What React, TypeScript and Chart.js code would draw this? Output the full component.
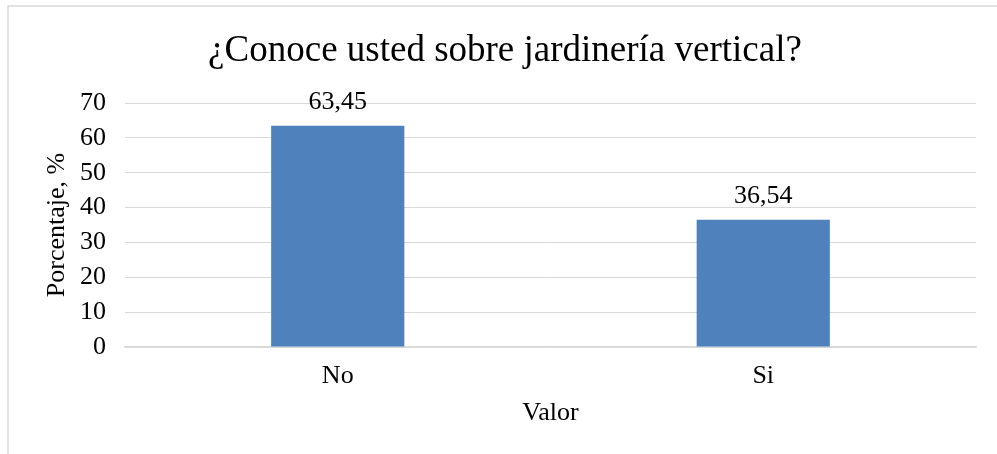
import React, { useEffect, useRef } from "react";
import { Chart, registerables } from "chart.js";

Chart.register(...registerables);

const TITLE = "¿Conoce usted sobre jardinería vertical?";
const categories = ["No", "Si"];
const values = [63.45, 36.54];
const yTicks = [0, 10, 20, 30, 40, 50, 60, 70];
const xTitle = "Valor";
const yTitle = "Porcentaje, %";

const FONT = "'Liberation Serif', 'Times New Roman', serif";
const FS = 26;

const framePlugin = {
  id: "frame",
  beforeDraw(chart: any) {
    const ctx = chart.ctx;
    ctx.save();
    ctx.fillStyle = "#ffffff";
    ctx.fillRect(0, 0, chart.width, chart.height);
    ctx.strokeStyle = "#d9d9d9";
    ctx.lineWidth = 1.5;
    ctx.strokeRect(8, 6, chart.width + 20, chart.height + 20);
    ctx.restore();
  },
};

const labelPlugin = {
  id: "barLabels",
  afterDatasetsDraw(chart: any) {
    const ctx = chart.ctx;
    const meta = chart.getDatasetMeta(0);
    ctx.save();
    ctx.font = `${FS}px ${FONT}`;
    ctx.fillStyle = "#000000";
    ctx.textAlign = "center";
    ctx.textBaseline = "alphabetic";
    meta.data.forEach((bar: any, i: number) => {
      const v = chart.data.datasets[0].data[i] as number;
      ctx.fillText(v.toFixed(2).replace(".", ","), bar.x, bar.y - 17);
    });
    ctx.restore();
  },
};

export default function App() {
  const ref = useRef<HTMLCanvasElement | null>(null);

  useEffect(() => {
    if (!ref.current) return;
    const chart = new Chart(ref.current, {
      type: "bar",
      data: {
        labels: categories,
        datasets: [
          {
            data: values,
            backgroundColor: "#4f81bd",
            borderWidth: 0,
            barPercentage: 0.313,
            categoryPercentage: 1,
          },
        ],
      },
      options: {
        animation: false,
        responsive: false,
        maintainAspectRatio: false,
        layout: { padding: { left: 34, right: 21, top: 0, bottom: 0 } },
        plugins: {
          legend: { display: false },
          tooltip: { enabled: false },
          title: {
            display: true,
            text: TITLE,
            color: "#000000",
            font: { family: FONT, size: 37, weight: "normal", lineHeight: 1.2 },
            padding: { top: 29, bottom: 29.6 },
          },
        },
        scales: {
          x: {
            grid: { display: false, drawTicks: false },
            border: { display: true, color: "#d9d9d9", width: 1.5 },
            ticks: {
              color: "#000000",
              font: { family: FONT, size: FS },
              padding: 14,
            },
            title: {
              display: true,
              text: xTitle,
              color: "#000000",
              font: { family: FONT, size: FS, lineHeight: 1.2 },
              padding: { top: 0, bottom: 25.2 },
            },
            afterFit(scale: any) {
              scale.height = 107;
            },
          },
          y: {
            min: 0,
            max: 70,
            afterBuildTicks(scale: any) {
              scale.ticks = yTicks.map((v) => ({ value: v }));
            },
            grid: { color: "#d9d9d9", lineWidth: 1, drawTicks: false },
            border: { display: false },
            ticks: {
              color: "#000000",
              font: { family: FONT, size: FS },
              padding: 19,
            },
            title: {
              display: true,
              text: yTitle,
              color: "#000000",
              font: { family: FONT, size: FS, lineHeight: 1.2 },
              padding: { top: 7.6, bottom: 0 },
            },
            afterFit(scale: any) {
              scale.width = 91;
            },
          },
        },
      },
      plugins: [framePlugin, labelPlugin],
    } as any);
    return () => chart.destroy();
  }, []);

  return (
    <div style={{ position: "fixed", left: 0, top: 0, width: 997, height: 454, background: "#fff" }}>
      <canvas ref={ref} width={997} height={454} style={{ display: "block", width: 997, height: 454 }} />
    </div>
  );
}
